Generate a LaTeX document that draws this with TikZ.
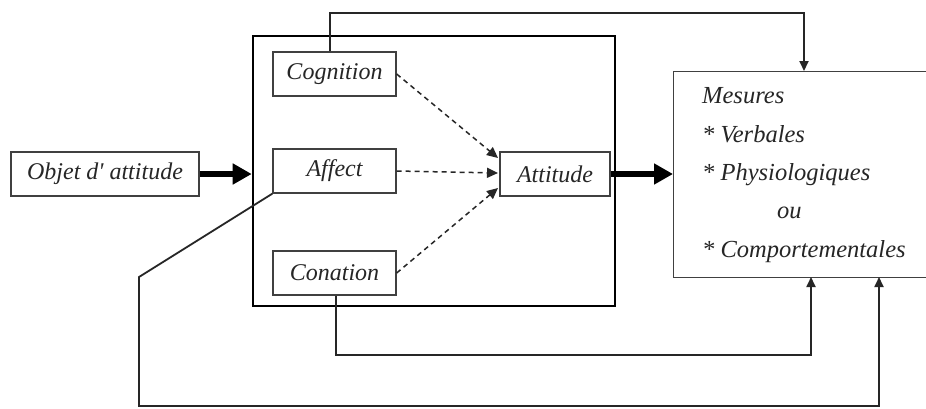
\documentclass[tikz,border=0pt]{standalone}
\usepackage{fontspec}
\setmainfont{Liberation Serif}
\usetikzlibrary{arrows.meta}
\begin{document}
\begin{tikzpicture}[x=1pt,y=-1pt,
  txt/.style={font=\fontsize{24}{27}\selectfont\itshape, text=black!85},
  mtxt/.style={font=\fontsize{24.5}{27}\selectfont\itshape, text=black!85, anchor=base west, inner sep=0pt},
  smallbox/.style={draw=black!75, line width=1.3pt, inner sep=0pt, txt},
  conn/.style={draw=black!85, line width=1.8pt},
  tip/.style={-{Triangle[length=10pt,width=9pt]}},
  dashconn/.style={draw=black!85, line width=1.5pt, dash pattern=on 5pt off 4pt, -{Triangle[length=11pt,width=10pt]}},
  thickarrow/.style={draw=black, line width=5.5pt, -{Triangle[length=19pt,width=20pt]}}
]
\useasboundingbox (0,0) rectangle (926,408);
\fill[white] (0,0) rectangle (926,408);
\clip (0,0) rectangle (926,408);

% boxes
\node[smallbox, minimum width=188pt, minimum height=44pt] (obj) at (105,174) {Objet d\textquotesingle\ attitude};
\node[draw=black, line width=2.6pt, minimum width=362pt, minimum height=270pt, inner sep=0pt] (big) at (434,171) {};
\node[smallbox, minimum width=123pt, minimum height=44pt] (cog) at (334.5,74) {Cognition};
\node[smallbox, minimum width=123pt, minimum height=44pt] (aff) at (334.5,171) {Affect};
\node[smallbox, minimum width=123pt, minimum height=44pt] (con) at (334.5,273) {Conation};
\node[smallbox, minimum width=110pt, minimum height=44pt] (att) at (555,174) {Attitude};
\node[draw=black!75, line width=1.3pt, minimum width=300pt, minimum height=206pt, inner sep=0pt, anchor=north west] (mes) at (673,71) {};

% Mesures text
\node[mtxt] (m1) at (702,103) {Mesures};
\node[mtxt] (m2) at (702,142) {* Verbales};
\node[mtxt] (m3) at (702,180) {* Physiologiques};
\node[mtxt] (m4) at (777,218) {ou};
\node[mtxt] (m5) at (702,257) {* Comportementales};

% coordinates for connector routing
\coordinate (cogtop) at ([xshift=-4.5pt]cog.north);
\coordinate (toprow) at (804,13);
\coordinate (mestop) at (804,71);
\coordinate (contop) at ([xshift=1.5pt]con.south);
\coordinate (conrow) at (811,355);
\coordinate (mesb1) at (811,277);
\coordinate (affk) at (139,277);
\coordinate (affrow) at (139,406);
\coordinate (mesb2) at (879,277);
\coordinate (attin1) at (498,158);
\coordinate (attin2) at (498,173);
\coordinate (attin3) at (498,188);

% thick arrows
\draw[thickarrow] (obj.east) -- (obj.east -| big.west);
\draw[thickarrow] (att.east) -- (att.east -| mes.west);

% dashed arrows
\draw[dashconn] (cog.east) -- (attin1);
\draw[dashconn] (aff.east) -- (attin2);
\draw[dashconn] (con.east) -- (attin3);

% connectors
\draw[conn, tip] (cogtop) |- (toprow) -- (mestop);
\draw[conn, tip] (contop) |- (conrow) -- (mesb1);
\draw[conn, tip] (aff.south west) -- (affk) -- (affrow) -| (mesb2);
\end{tikzpicture}
\end{document}
